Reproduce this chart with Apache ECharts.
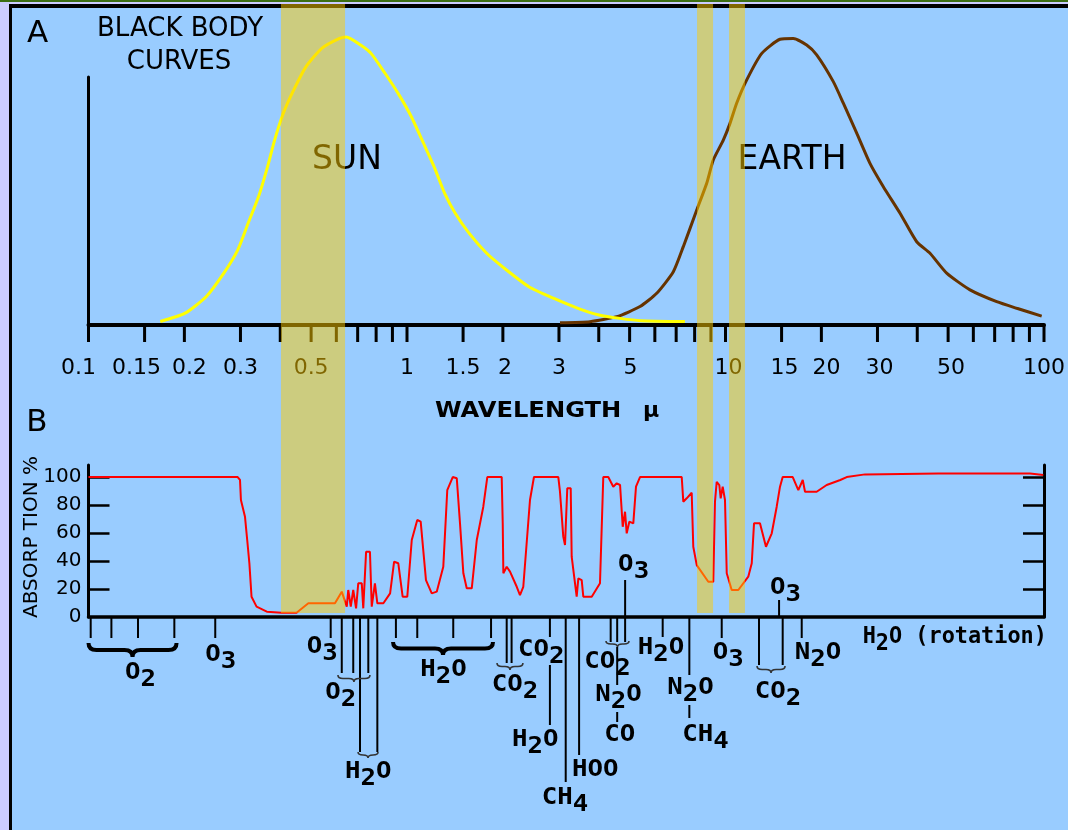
<!DOCTYPE html>
<html>
<head>
<meta charset="utf-8">
<script src="https://cdn.jsdelivr.net/npm/echarts@6/dist/echarts.min.js"></script>
<style>
html,body{margin:0;padding:0;background:#CCCCFF;}
#c{width:1068px;height:830px;}
</style>
</head>
<body>
<div id="c"></div>
<script>
// ---------- DATA ----------
// Panel A: black body curves (wavelength in µm, relative intensity)
const sunWavelength = [0.168,0.201,0.234,0.266,0.294,0.317,0.342,0.365,0.384,0.409,0.441,0.482,0.541,0.614,0.645,0.715,0.771,0.853,0.944,1.032,1.127,1.216,1.313,1.417,1.568,1.779,2.021,2.412,2.882,3.441,4.007,4.666,5.428,7.457];
const sunIntensity  = [1.2,4.1,9.8,18,26,35.3,44.6,55,64.2,73.5,81.6,89.7,96.1,99.5,100,97.2,94.3,87.4,79.9,72.3,63.1,55,45.7,38.8,31.8,24.9,19.7,13.3,9.3,5.8,3.5,2.3,1.5,1.2];
const earthWavelength = [3.022,3.755,4.554,5.390,6.081,6.858,7.371,8.123,8.730,9.155,9.842,10.33,10.84,11.66,13.00,14.83,16.33,17.98,19.33,21.80,23.44,25.82,28.42,31.30,35.32,39.84,43.86,49.48,58.58,71.04,82.11,98.35];
const earthIntensity  = [0.8,1.15,2.9,6.4,11,18.5,27.2,39.9,49.2,57.3,64.2,70,77,85.1,94.3,99.2,99.5,97.2,93.8,84.5,77,66.6,56.1,48,38.8,28.9,24.9,18,12.2,8.1,5.8,3.1];

// Panel B: atmospheric absorption (%)
const absWavelength = [0.1,0.294,0.299,0.301,0.310,0.315,0.320,0.325,0.337,0.363,0.404,0.450,0.490,0.594,0.624,0.647,0.654,0.666,0.678,0.692,0.703,0.721,0.729,0.744,0.765,0.775,0.793,0.807,0.843,0.885,0.911,0.939,0.969,1.002,1.035,1.077,1.104,1.147,1.196,1.240,1.300,1.338,1.392,1.433,1.467,1.503,1.540,1.597,1.656,1.736,1.787,1.983,1.998,2.007,2.056,2.106,2.211,2.263,2.318,2.433,2.504,2.986,3.022,3.095,3.134,3.186,3.232,3.266,3.289,3.410,3.451,3.536,3.577,3.802,4.036,4.133,4.285,4.443,4.554,4.666,4.757,4.837,4.896,4.989,5.135,5.236,5.390,7.287,7.371,7.554,7.832,7.922,8.123,8.831,9.155,9.268,9.383,9.562,9.659,9.799,9.963,10.09,10.46,10.97,11.79,12.09,12.29,12.83,13.40,13.97,14.48,14.83,15.12,16.26,16.93,17.48,17.77,19.33,20.78,22.93,24.02,27.42,46.57,90.37,99.5];
const absPercent    = [100,100,97.9,83.6,71.6,55,38.3,14.5,7.4,3.8,3.1,3.1,9.8,9.8,18.1,7.4,19.3,7.4,19.3,6.2,24.1,24.1,6.2,46.6,46.6,7.4,24.1,9.8,9.8,16.9,39.5,38.4,14.5,14.5,55,69.3,68.1,26.4,16.9,18.1,35.9,90.7,100,99.1,66.9,31.2,20.5,20.5,55,78.8,100,100,66.9,31.2,35.9,32.4,21.6,15.7,21.6,83.6,100,100,89.5,57.4,51.4,91.9,90.7,91.9,43.1,14.5,27.6,26.4,14.5,14.5,24.1,100,100,93.1,95.5,94.3,64.5,75.2,59.8,68.1,66.9,93.1,100,100,82.4,84.8,88.8,50.2,37.1,25.2,25.2,82.4,96.6,94.3,84.8,93.1,83.6,31.2,19.3,19.3,28.8,38.4,66.9,66.9,50.2,59.8,78.8,93.1,100,100,90.7,97.9,89.5,89.5,94.3,97.9,100,101.9,102.6,102.6,101.4];

// highlighted wavelength windows (µm)
const bandFrom = [0.402, 8.14, 10.26];
const bandTo   = [0.639, 9.14, 11.51];

// wavelength axis ticks / labels
const tickValues = [0.1,0.15,0.2,0.3,0.4,0.5,0.6,0.7,0.8,0.9,1,1.5,2,3,4,5,6,7,8,9,10,15,20,30,40,50,60,70,80,90,100];
const tickLabelValues = [0.1,0.15,0.2,0.3,0.5,1,1.5,2,3,5,10,15,20,30,50,100];
const tickLabels = ['0.1','0.15','0.2','0.3','0.5','1','1.5','2','3','5','10','15','20','30','50','100'];
const absorptionTickLabels = [0,20,40,60,80,100];

// absorbing-gas leader lines: wavelength (µm)
const leaderWavelength = [0.1016,0.118,0.143,0.186,0.25,0.576,0.624,0.678,0.756,0.712,0.807,0.923,1.077,1.397,1.836,2.056,2.13,2.81,2.81,3.15,3.47,4.36,4.57,4.84,4.57,4.57,6.35,7.7,7.7,9.73,12.74,15.12,17.35,4.84,14.73];
// braces grouping leaders: wavelength range
const braceFrom = [0.1, 0.904, 0.607, 0.702, 1.917, 4.215, 12.56];
const braceTo   = [0.189, 1.862, 0.765, 0.811, 2.312, 4.977, 15.38];
// gas labels
const gasLabels = ['O2','O3','O3','O2','H2O','H2O','CO2','CO2','H2O','CH4','HOO','CO2','N2O','CO','H2O','N2O','CH4','O3','CO2','N2O','H2O (rotation)','O3','O3'];
const gasLabelWavelength = [0.143,0.25,0.576,0.678,0.712,1.397,2.056,2.81,2.81,3.15,3.47,4.57,4.57,4.57,6.35,7.7,7.7,9.73,15.12,17.35,17.35,4.84,14.73];

// ---------- LAYOUT (pixels) ----------
const tickLabelShift = [-10,-8,5,0,0,0,0,2,0,1,3,3,5,2,3,0];
const leaderFromPx = [1,1,1,1,1,1,1,1,1,1,1,1,1,1,1,1,1,1,48,1,1,1,1,1,30,95,1,1,88,1,1,1,1,-37,-17];
const leaderToPx   = [21,21,21,21,21,21,56,56,56,135,135,21,21,21,21,46,46,20,108,165,138,25,25,25,68,105,20,58,101,21,48,48,21,0,0];
const braceTopPx = [26,25,58,135,46,24,49];
const braceHeightPx = [14,13,7,6,7,6,7];
const braceBig = [true,true,false,false,false,false,false];
const labelDx = [-13,-10,-24,-28,-15,-33,-15,-32,-38,-24,-7,-33,-22,-13,-25,-22,-7,-9,-28,-7,61,-7,-9];
const labelCapTop = [46,28,20,66,145,43,58,23,113,171,143,35,68,108,21,61,108,26,65,26,10,-62,-39];

const zip = (a, b) => a.map((v, i) => [v, b[i]]);

function richOf(t) {
  return t.match(/\d+|\D+/g).map(r => /\d/.test(r) ? '{s|' + r + '}' : '{a|' + r + '}').join('');
}
const monoA = {fontFamily: 'DejaVu Sans Mono', fontWeight: 'bold', fontSize: 23, lineHeight: 24, verticalAlign: 'top', fill: '#000'};
const monoS = Object.assign({}, monoA, {padding: [7, 0, 0, 0]});

function renderTickA(params, api) {
  const p = api.coord([api.value(0), 0]);
  return {type: 'line', shape: {x1: p[0], y1: p[1], x2: p[0], y2: p[1] + 17}, style: {stroke: '#000', lineWidth: 3}};
}
function renderTickLabelA(params, api) {
  const i = params.dataIndex;
  const p = api.coord([api.value(0), 0]);
  return {type: 'text', x: p[0] + tickLabelShift[i], y: p[1] + 43,
    style: {text: tickLabels[i], font: '22px "DejaVu Sans"', fill: '#000', textAlign: 'center', textVerticalAlign: 'middle'}};
}
function renderBand(params, api) {
  const i = params.dataIndex;
  const x1 = api.coord([bandFrom[i], 1])[0];
  const x2 = api.coord([bandTo[i], 1])[0];
  return {type: 'rect', shape: {x: x1, y: 4, width: x2 - x1, height: 609}, style: {fill: 'rgba(255,204,0,0.5)'}};
}
function renderLeader(params, api) {
  const i = params.dataIndex;
  const p = api.coord([api.value(0), 0]);
  return {type: 'line', shape: {x1: p[0], y1: p[1] + leaderFromPx[i], x2: p[0], y2: p[1] + leaderToPx[i]},
    style: {stroke: '#000', lineWidth: 2}};
}
function renderBrace(params, api) {
  const i = params.dataIndex;
  const a = api.coord([braceFrom[i], 0]);
  const b = api.coord([braceTo[i], 0]);
  const x1 = a[0], x2 = b[0], xm = (x1 + x2) / 2;
  const y0 = a[1] + braceTopPx[i], h = braceHeightPx[i];
  const ym = y0 + h * 0.5, yt = y0 + h;
  const r = Math.min(braceBig[i] ? 8 : 5, (x2 - x1) / 4);
  const d = 'M' + x1 + ' ' + y0 + ' Q' + x1 + ' ' + ym + ' ' + (x1 + r) + ' ' + ym +
    ' L' + (xm - r) + ' ' + ym + ' Q' + xm + ' ' + ym + ' ' + xm + ' ' + yt +
    ' Q' + xm + ' ' + ym + ' ' + (xm + r) + ' ' + ym +
    ' L' + (x2 - r) + ' ' + ym + ' Q' + x2 + ' ' + ym + ' ' + x2 + ' ' + y0;
  return {type: 'path', shape: {pathData: d},
    style: {stroke: braceBig[i] ? '#000' : '#333', fill: null, lineWidth: braceBig[i] ? 4 : 1.6}};
}
function renderGasLabel(params, api) {
  const i = params.dataIndex;
  const p = api.coord([api.value(0), 0]);
  const t = gasLabels[i];
  return {type: 'text', x: p[0] + labelDx[i], y: p[1] + labelCapTop[i] - 1,
    scaleX: t.length > 4 ? 0.95 : 1.12,
    style: {text: richOf(t), rich: {a: monoA, s: monoS}, textAlign: 'left', textVerticalAlign: 'top'}};
}

const chart = echarts.init(document.getElementById('c'), null, {renderer: 'canvas', width: 1068, height: 830});

const axisBlack = w => ({show: true, onZero: false, lineStyle: {color: '#000', width: w}});

chart.setOption({
  animation: false,
  backgroundColor: '#99CCFF',
  grid: [
    {left: 88.5, right: 24, top: 77, bottom: 505, outerBoundsMode: 'none'},
    {left: 88.5, right: 24, top: 465, bottom: 213, outerBoundsMode: 'none'}
  ],
  xAxis: [
    {type: 'log', logBase: 10, min: 0.1, max: 100, gridIndex: 0, axisLine: axisBlack(4),
      axisTick: {show: false}, axisLabel: {show: false}, splitLine: {show: false}},
    {type: 'log', logBase: 10, min: 0.1, max: 100, gridIndex: 1, axisLine: axisBlack(3.5),
      axisTick: {show: false}, axisLabel: {show: false}, splitLine: {show: false}}
  ],
  yAxis: [
    {type: 'value', gridIndex: 0, min: 0, max: 86.1, axisLine: axisBlack(3),
      axisTick: {show: false}, axisLabel: {show: false}, splitLine: {show: false}},
    {type: 'value', gridIndex: 1, min: 0, max: 108.6, position: 'left', axisLine: axisBlack(3),
      axisTick: {show: true, inside: true, length: 21, lineStyle: {color: '#000', width: 2.5}, customValues: [20, 40, 60, 80, 100]},
      axisLabel: {customValues: absorptionTickLabels, color: '#000', fontSize: 20, fontFamily: 'DejaVu Sans', margin: 7},
      splitLine: {show: false}},
    {type: 'value', gridIndex: 1, min: 0, max: 108.6, position: 'right', axisLine: axisBlack(3),
      axisTick: {show: true, inside: true, length: 21, lineStyle: {color: '#000', width: 2.5}, customValues: [20, 40, 60, 80, 100]},
      axisLabel: {show: false}, splitLine: {show: false}}
  ],
  graphic: [
    {type: 'rect', z: 0, shape: {x: 0, y: 0, width: 9, height: 830}, style: {fill: '#CCCCFF'}},
    {type: 'rect', z: 0, shape: {x: 0, y: 0, width: 1068, height: 4}, style: {fill: '#CCCCFF'}},
    {type: 'rect', z: 0, shape: {x: 0, y: 0, width: 1068, height: 2}, style: {fill: '#3C6E14'}},
    {type: 'rect', z: 0, shape: {x: 9, y: 4, width: 1059, height: 4}, style: {fill: '#000'}},
    {type: 'rect', z: 0, shape: {x: 9, y: 4, width: 3, height: 826}, style: {fill: '#000'}},
    {type: 'text', z: 1, x: 37.5, y: 33.5, style: {text: 'A', font: '31px "DejaVu Sans"', fill: '#000', textAlign: 'center', textVerticalAlign: 'middle'}},
    {type: 'text', z: 1, x: 180, y: 29, style: {text: 'BLACK BODY', font: '26px "DejaVu Sans"', fill: '#000', textAlign: 'center', textVerticalAlign: 'middle'}},
    {type: 'text', z: 1, x: 179, y: 62.5, style: {text: 'CURVES', font: '26px "DejaVu Sans"', fill: '#000', textAlign: 'center', textVerticalAlign: 'middle'}},
    {type: 'text', z: 1, x: 347, y: 160.5, style: {text: 'SUN', font: '33px "DejaVu Sans"', fill: '#000', textAlign: 'center', textVerticalAlign: 'middle'}},
    {type: 'text', z: 1, x: 792, y: 160.5, style: {text: 'EARTH', font: '33px "DejaVu Sans"', fill: '#000', textAlign: 'center', textVerticalAlign: 'middle'}},
    {type: 'text', z: 1, x: 435, y: 411, scaleX: 1.1, style: {text: 'WAVELENGTH', font: 'bold 22px "DejaVu Sans"', fill: '#000', textAlign: 'left', textVerticalAlign: 'middle'}},
    {type: 'text', z: 1, x: 651, y: 411, style: {text: 'μ', font: 'bold 22px "DejaVu Sans"', fill: '#000', textAlign: 'center', textVerticalAlign: 'middle'}},
    {type: 'text', z: 1, x: 37, y: 423, style: {text: 'B', font: '31px "DejaVu Sans"', fill: '#000', textAlign: 'center', textVerticalAlign: 'middle'}},
    {type: 'text', z: 1, x: 32, y: 537, rotation: Math.PI / 2, style: {text: 'ABSORP TION %', font: '20px "DejaVu Sans"', fill: '#000', textAlign: 'center', textVerticalAlign: 'middle'}}
  ],
  series: [
    {name: 'Earth', type: 'line', xAxisIndex: 0, yAxisIndex: 0, data: zip(earthWavelength, earthIntensity),
      showSymbol: false, smooth: 0.2, clip: false, z: 3, lineStyle: {color: '#663300', width: 3}},
    {name: 'Sun', type: 'line', xAxisIndex: 0, yAxisIndex: 0, data: zip(sunWavelength, sunIntensity),
      showSymbol: false, smooth: 0.2, clip: false, z: 3, lineStyle: {color: '#FFFF00', width: 3}},
    {name: 'Absorption', type: 'line', xAxisIndex: 1, yAxisIndex: 1, data: zip(absWavelength, absPercent),
      showSymbol: false, clip: false, z: 3, lineStyle: {color: '#FF0000', width: 2}},
    {type: 'custom', xAxisIndex: 0, yAxisIndex: 0, clip: false, silent: true, z: 4,
      data: tickValues.map(v => [v, 0]), renderItem: renderTickA},
    {type: 'custom', xAxisIndex: 0, yAxisIndex: 0, clip: false, silent: true, z: 4,
      data: tickLabelValues.map(v => [v, 0]), renderItem: renderTickLabelA},
    {type: 'custom', xAxisIndex: 1, yAxisIndex: 1, clip: false, silent: true, z: 4,
      data: leaderWavelength.map(v => [v, 0]), renderItem: renderLeader},
    {type: 'custom', xAxisIndex: 1, yAxisIndex: 1, clip: false, silent: true, z: 4,
      data: braceFrom.map(v => [v, 0]), renderItem: renderBrace},
    {type: 'custom', xAxisIndex: 1, yAxisIndex: 1, clip: false, silent: true, z: 4,
      data: gasLabelWavelength.map(v => [v, 0]), renderItem: renderGasLabel},
    {type: 'custom', xAxisIndex: 0, yAxisIndex: 0, clip: false, silent: true, z: 10,
      data: bandFrom.map(v => [v, 1]), renderItem: renderBand}
  ]
});
</script>
</body>
</html>
